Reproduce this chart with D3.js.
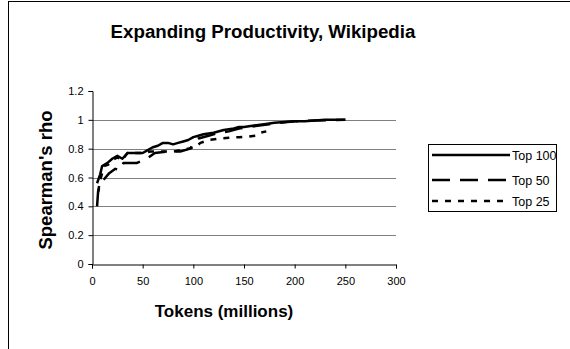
<!DOCTYPE html>
<html><head><meta charset="utf-8">
<script src="https://cdn.jsdelivr.net/npm/d3@7"></script>
<style>body{margin:0;background:#fff}svg{display:block}text{font-family:"Liberation Sans",Arial,sans-serif}</style>
</head><body>
<svg id="c" width="570" height="349"></svg>
<script>
const xTicks = [0,50,100,150,200,250,300];
const yTicks = [0,0.2,0.4,0.6,0.8,1,1.2];
const seriesNames = ["Top 100","Top 50","Top 25"];
const top100X = [5,8,10,15,20,25,30,35,40,45,50,55,60,65,70,75,80,85,90,95,100,105,110,120,130,140,145,150,160,170,180,190,200,210,220,230,240,250];
const top100Y = [0.56,0.62,0.68,0.70,0.73,0.75,0.73,0.77,0.77,0.77,0.77,0.79,0.81,0.82,0.84,0.84,0.83,0.84,0.85,0.86,0.88,0.89,0.90,0.91,0.93,0.94,0.95,0.95,0.96,0.97,0.98,0.985,0.99,0.99,0.995,1.0,1.0,1.0];
const top50X = [5,6,8,11,17,23,28,31,37,44,54,62,74,87,97,101,105,115,125,135,145,155,165,175,185,200,220,250];
const top50Y = [0.40,0.50,0.55,0.58,0.63,0.66,0.65,0.70,0.70,0.70,0.73,0.77,0.78,0.78,0.80,0.85,0.87,0.89,0.91,0.92,0.94,0.95,0.96,0.97,0.98,0.99,0.995,1.0];
const top25X = [6,8,12,16,20,25,30,35,42,50,58,65,72,80,88,95,102,107,115,125,135,145,155,162,166,172];
const top25Y = [0.50,0.58,0.68,0.69,0.72,0.74,0.72,0.77,0.77,0.77,0.78,0.78,0.78,0.78,0.79,0.80,0.81,0.84,0.86,0.87,0.875,0.88,0.885,0.89,0.91,0.92];

const svg = d3.select("#c");
svg.append("rect").attr("x",8.5).attr("y",1.5).attr("width",600).attr("height",400)
  .attr("fill","none").attr("stroke","#000").attr("stroke-width",1);

const x = d3.scaleLinear().domain([0,300]).range([92,396]);
const y = d3.scaleLinear().domain([0,1.2]).range([264,91]);

svg.append("text").attr("x",263).attr("y",38).attr("text-anchor","middle")
  .attr("font-size",18.7).attr("font-weight","bold").text("Expanding Productivity, Wikipedia");

svg.append("g").selectAll("line").data(yTicks.filter(d=>d>0 && d<1.1)).join("line")
  .attr("x1",x(0)).attr("x2",x(300)).attr("y1",d=>Math.round(y(d))+0.5).attr("y2",d=>Math.round(y(d))+0.5)
  .attr("stroke","#808080").attr("stroke-width",1);

const xAxis = svg.append("g").attr("transform",`translate(0,${Math.round(y(0))+0.5})`)
  .call(d3.axisBottom(x).tickValues(xTicks).tickSizeOuter(0).tickSize(4).tickPadding(9).tickFormat(d3.format("d")));
const yAxis = svg.append("g").attr("transform",`translate(${Math.round(x(0))+0.5},0)`)
  .call(d3.axisLeft(y).tickValues(yTicks).tickSizeOuter(0).tickSize(4).tickPadding(5).tickFormat(d=>d3.format("")(+d.toFixed(1))));
[xAxis,yAxis].forEach(g=>{
  g.selectAll("path,line").attr("stroke","#000");
  g.selectAll("text").attr("font-size",11).attr("fill","#000").attr("font-family","Liberation Sans, Arial, sans-serif");
});

svg.append("text").attr("x",224).attr("y",317).attr("text-anchor","middle")
  .attr("font-size",17).attr("font-weight","bold").text("Tokens (millions)");
svg.append("text").attr("transform","translate(52,180) rotate(-90)").attr("text-anchor","middle")
  .attr("font-size",18.5).attr("font-weight","bold").text("Spearman's rho");

const dashes = ["none","18,10","6,7"];
const series = [
  {name:seriesNames[0], xs:top100X, ys:top100Y},
  {name:seriesNames[1], xs:top50X, ys:top50Y},
  {name:seriesNames[2], xs:top25X, ys:top25Y}
];
const line = d3.line().x(d=>x(d[0])).y(d=>y(d[1]));
series.forEach((s,i)=>{
  svg.append("path").datum(s.xs.map((v,j)=>[v,s.ys[j]]))
    .attr("d",line).attr("fill","none").attr("stroke","#000").attr("stroke-width",2.5)
    .attr("stroke-dasharray",dashes[i]).attr("stroke-linejoin","round");
});

const lg = svg.append("g");
lg.append("rect").attr("x",428.5).attr("y",144.5).attr("width",128).attr("height",67)
  .attr("fill","#fff").attr("stroke","#000").attr("stroke-width",1);
const rows = [155,180,201];
series.forEach((s,i)=>{
  lg.append("line").attr("x1",432).attr("x2",510).attr("y1",rows[i]).attr("y2",rows[i])
    .attr("stroke","#000").attr("stroke-width",2.5).attr("stroke-dasharray",dashes[i]);
  lg.append("text").attr("x",512).attr("y",rows[i]+4.5).attr("font-size",12.5).text(s.name);
});
</script>
</body></html>
